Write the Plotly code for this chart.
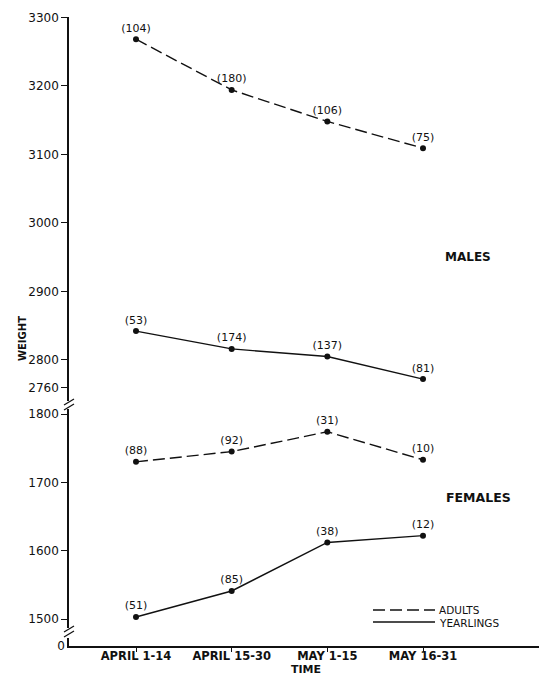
import plotly.graph_objects as go

# ---- data ----
periods = ["APRIL 1-14", "APRIL 15-30", "MAY 1-15", "MAY 16-31"]
male_adult = [3268, 3194, 3148, 3109]
male_adult_n = ["(104)", "(180)", "(106)", "(75)"]
male_yearling = [2842, 2816, 2805, 2772]
male_yearling_n = ["(53)", "(174)", "(137)", "(81)"]
female_adult = [1730, 1745, 1774, 1733]
female_adult_n = ["(88)", "(92)", "(31)", "(10)"]
female_yearling = [1503, 1541, 1612, 1622]
female_yearling_n = ["(51)", "(85)", "(38)", "(12)"]
male_ticks = [2760, 2800, 2900, 3000, 3100, 3200, 3300]
female_ticks = [1500, 1600, 1700, 1800]
zero_ticks = [0]

# ---- layout geometry ----
# The page body keeps its default 8px margin, so the figure is sized to fit
# the 547x684 window and all target pixel positions are shifted by OFF.
OFF = 8
W, H = 547 - 2 * OFF, 684 - 2 * OFF
ML = 69 - OFF
MT = 10 - OFF
X0 = 646 - OFF          # figure pixel y of the x axis
MB = H - X0
MR = 0
PW = W - ML - MR
PH = H - MT - MB


def px(x):   # target-window pixel x -> paper
    return (x - OFF - ML) / PW


def py(y):   # target-window pixel y -> paper
    return (X0 - (y - OFF)) / PH


# male axis: 3300 at y=17.3, 2760 at y=387.3
m_scale = (387.3 - 17.3) / 540.0
m_top_px, m_bot_px = 17.3, 401
m_range = [2760 - (m_bot_px - 387.3) / m_scale, 3300]
# female axis: 1800 at y=414, 1500 at y=619
f_scale = (619 - 414) / 300.0
f_top_px, f_bot_px = 409, 628
f_range = [1500 - (f_bot_px - 619) / f_scale, 1800 + (414 - f_top_px) / f_scale]
z_top_px = 638
z_range = [0, (646 - z_top_px) / f_scale]

# category positions: index 0 at x=136, index 3 at x=423
c_step = (423 - 136) / 3.0
x_range = [(69 - 136) / c_step, (OFF + W - 136) / c_step]

FONT = "DejaVu Sans"
INK = "#111111"

fig = go.Figure()

dash_style = "12px,5px"


def add(y, txt, axis, dashed):
    fig.add_trace(go.Scatter(
        x=periods, y=y, yaxis=axis, mode="lines+markers+text",
        text=txt, textposition="top center",
        textfont=dict(family=FONT, size=11, color=INK),
        line=dict(color=INK, width=1.4, dash=dash_style if dashed else "solid"),
        marker=dict(color=INK, size=6),
        showlegend=False, cliponaxis=False, hoverinfo="x+y"))


add(male_adult, male_adult_n, "y", True)
add(male_yearling, male_yearling_n, "y", False)
add(female_adult, female_adult_n, "y2", True)
add(female_yearling, female_yearling_n, "y2", False)
# empty trace so the zero-axis segment is drawn
fig.add_trace(go.Scatter(x=periods, y=[None] * len(periods), yaxis="y3",
                         mode="markers", showlegend=False, hoverinfo="skip"))

axis_common = dict(showline=True, linecolor=INK, linewidth=1.5, ticks="outside",
                   ticklen=6, tickwidth=1.3, tickcolor=INK, showgrid=False,
                   zeroline=False, automargin=False, anchor="x",
                   tickfont=dict(family=FONT, size=12, color=INK))

fig.update_layout(
    width=W, height=H,
    margin=dict(l=ML, r=MR, t=MT, b=MB, autoexpand=False),
    paper_bgcolor="white", plot_bgcolor="white",
    xaxis=dict(type="category", range=x_range, showline=True, linecolor=INK,
               linewidth=1.5, ticks="outside", ticklen=4, tickwidth=1.3, tickcolor=INK,
               showgrid=False, zeroline=False, anchor="y3", automargin=False,
               ticklabelstandoff=-6,
               tickfont=dict(family=FONT, size=11.5, color=INK, weight="bold")),
    yaxis=dict(domain=[py(m_bot_px), py(m_top_px)], range=m_range,
               tickvals=male_ticks, **axis_common),
    yaxis2=dict(domain=[py(f_bot_px), py(f_top_px)], range=f_range,
                tickvals=female_ticks, **axis_common),
    yaxis3=dict(domain=[0, py(z_top_px)], range=z_range,
                tickvals=zero_ticks, **dict(axis_common, ticks="")),
)

# axis break marks
shapes = []
for (x1, y1, x2, y2) in [(64, 405, 74, 399), (64, 410, 74, 404),
                         (64, 632, 74, 626), (64, 637, 74, 631)]:
    shapes.append(dict(type="line", xref="paper", yref="paper",
                       x0=px(x1), y0=py(y1), x1=px(x2), y1=py(y2),
                       line=dict(color=INK, width=1.3)))
# legend samples
shapes.append(dict(type="line", xref="paper", yref="paper",
                   x0=px(373), y0=py(610), x1=px(435), y1=py(610),
                   line=dict(color=INK, width=1.4, dash=dash_style)))
shapes.append(dict(type="line", xref="paper", yref="paper",
                   x0=px(373), y0=py(622), x1=px(435), y1=py(622),
                   line=dict(color=INK, width=1.4)))
fig.update_layout(shapes=shapes)

ann = [
    dict(text="MALES", x=px(468), y=py(257), font=dict(size=12, weight="bold")),
    dict(text="FEMALES", x=px(478), y=py(497), font=dict(size=12.5, weight="bold")),
    dict(text="TIME", x=px(306), y=py(669), font=dict(size=11, weight="bold")),
    dict(text="WEIGHT", x=px(22), y=py(339), textangle=-90, font=dict(size=10, weight="bold")),
    dict(text="ADULTS", x=px(437), y=py(610), xanchor="left", font=dict(size=10.5)),
    dict(text="YEARLINGS", x=px(437), y=py(623), xanchor="left", font=dict(size=10.5)),
]
for a in ann:
    a.setdefault("xanchor", "center")
    a["font"] = dict(family=FONT, color=INK, **a["font"])
    fig.add_annotation(xref="paper", yref="paper", yanchor="middle",
                       showarrow=False, **a)

fig.write_html("out.html")
